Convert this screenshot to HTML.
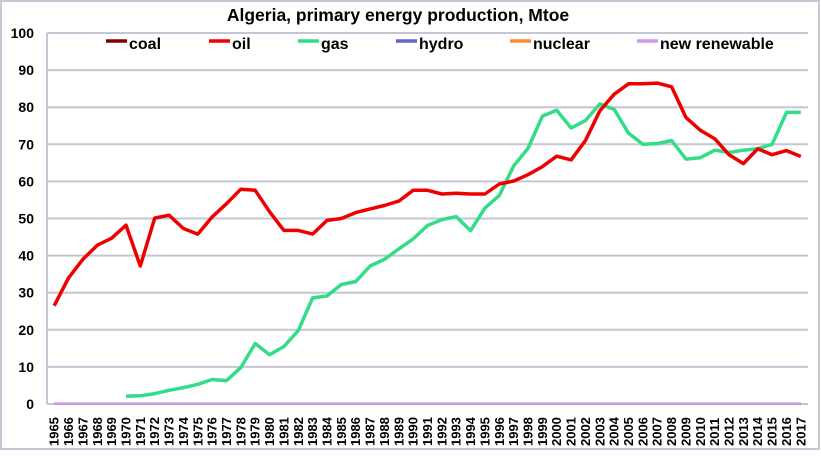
<!DOCTYPE html>
<html><head><meta charset="utf-8"><style>
body{margin:0;background:#fff}
svg text{font-family:"Liberation Sans",Arial,sans-serif;font-weight:bold;fill:#000}
</style></head><body>
<svg id="chart" width="821" height="451" xmlns="http://www.w3.org/2000/svg">
<rect x="1" y="1" width="818" height="448" fill="#fff" stroke="#c6c8d6" stroke-width="2"/>
<text x="398" y="21" font-size="17.5" text-anchor="middle">Algeria, primary energy production, Mtoe</text>
<g id="grid"></g><g id="yticks"></g><g id="xticks"></g><g id="series"></g><g id="legend"></g>
</svg>
<script>
const years=[];for(let y=1965;y<=2017;y++)years.push(y);
const yTicks=[0,10,20,30,40,50,60,70,80,90,100];
const oil=[26.5,34,39,42.8,44.7,48.2,37.2,50.1,50.9,47.3,45.8,50.4,54,57.9,57.6,51.8,46.8,46.8,45.8,49.5,50,51.6,52.6,53.5,54.7,57.6,57.6,56.6,56.8,56.6,56.6,59.3,60.1,61.8,64,66.8,65.8,71,79,83.5,86.3,86.3,86.5,85.5,77.2,73.8,71.5,67.2,64.8,68.8,67.2,68.3,66.7];
const gasStart=1970;
const gas=[2.1,2.2,2.8,3.7,4.4,5.3,6.6,6.3,9.8,16.3,13.3,15.5,19.8,28.6,29.1,32.2,33,37.2,39,41.8,44.5,48.1,49.7,50.5,46.7,52.8,56.2,64.2,68.9,77.6,79.2,74.4,76.4,80.9,79.4,73,70,70.2,71,66,66.4,68.4,67.8,68.4,68.8,70,78.6,78.6];
const coal=years.map(()=>0), hydro=years.map(()=>0.05), nuclear=years.map(()=>0), renew=years.map(()=>0.1);
const legendNames=["coal","oil","gas","hydro","nuclear","new renewable"];
const legendColors=["#800000","#ee0000","#33dd88","#6666cc","#ff8833","#cc99ee"];
const legendX=[106,209,298,396,510,637];
const NS="http://www.w3.org/2000/svg";
const L=47,R=808,T=33,B=404;
const band=(R-L)/years.length;
const xs=yr=>L+band*(yr-1965+0.5);
const ys=v=>B-(B-T)*v/100;
function mk(tag,attrs,parent){const e=document.createElementNS(NS,tag);for(const k in attrs)e.setAttribute(k,attrs[k]);parent.appendChild(e);return e;}
const grid=document.getElementById('grid'),yt=document.getElementById('yticks'),xt=document.getElementById('xticks'),ser=document.getElementById('series'),leg=document.getElementById('legend');
yTicks.forEach(v=>{
 const l=mk('line',{x1:L,x2:R,y1:ys(v),y2:ys(v),stroke:'#c4c6d6','stroke-width':2},grid);
 
 
 const t=mk('text',{x:34,y:ys(v)+5,'font-size':14,'text-anchor':'end'},yt);t.textContent=v;
 
 
});
const ax=mk('line',{x1:L,x2:L,y1:T,y2:B,stroke:'#c4c6d6','stroke-width':2},grid);


years.forEach(yr=>{
 const x=xs(yr)+4.5;
 const t=mk('text',{x:x,y:446,'font-size':13,transform:`rotate(-90 ${x} 446)`},xt);t.textContent=yr;
 
 
});
function line(vals,start,color,name,w){
 const pts=vals.map((v,i)=>xs(start+i).toFixed(1)+','+ys(v).toFixed(1)).join(' ');
 const p=mk('polyline',{points:pts,fill:'none',stroke:color,'stroke-width':w,'stroke-linejoin':'round'},ser);
 
 
}
line(coal,1965,legendColors[0],'coal',2);
line(nuclear,1965,legendColors[4],'nuclear',2);
line(hydro,1965,legendColors[3],'hydro',2);
line(renew,1965,legendColors[5],'new-renewable',2.5);
line(gas,gasStart,legendColors[2],'gas',3.5);
line(oil,1965,legendColors[1],'oil',3.5);
legendNames.forEach((n,i)=>{
 const g=mk('g',{},leg);
 
 
 mk('line',{x1:legendX[i],x2:legendX[i]+21,y1:41,y2:41,stroke:legendColors[i],'stroke-width':3.5},g);
 const t=mk('text',{x:legendX[i]+23,y:49,'font-size':16},g);t.textContent=n;
});
</script>
</body></html>
